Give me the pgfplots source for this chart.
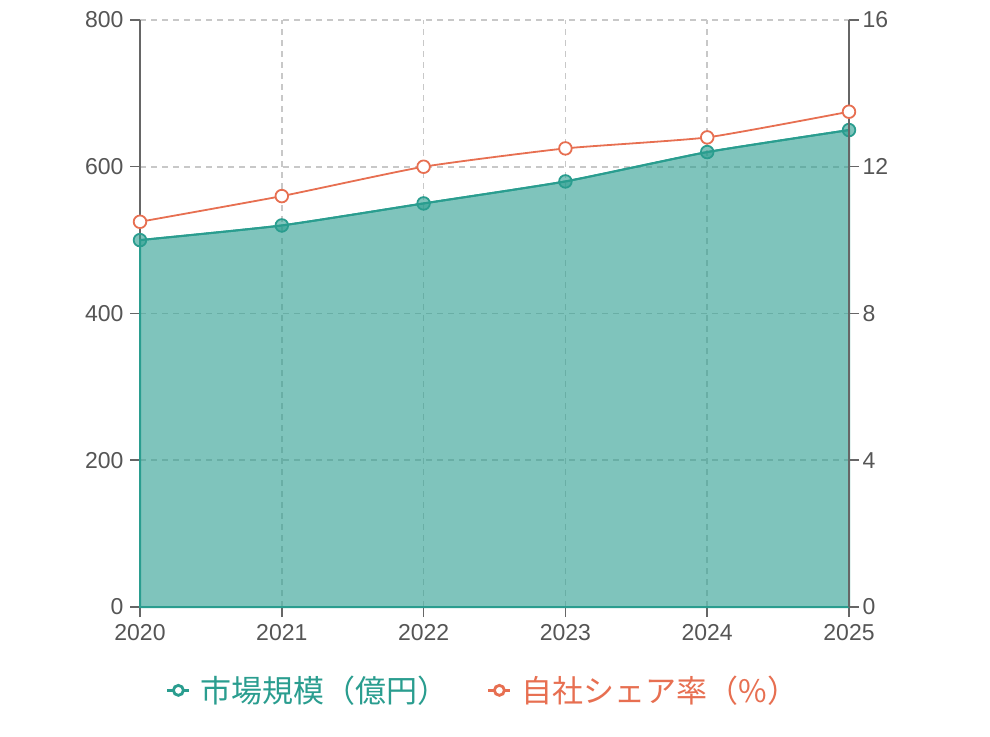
\documentclass[border=0pt]{standalone}
\usepackage{fontspec}
\setmainfont{Liberation Sans}
\newfontfamily\cjk{Noto Sans CJK JP}
\usepackage{pgfplots}
\pgfplotsset{compat=1.18}
\definecolor{teal}{HTML}{2A9D8F}
\definecolor{coral}{HTML}{E76F51}
\definecolor{axgray}{HTML}{666666}
\definecolor{lblgray}{HTML}{555555}
\definecolor{gridgray}{HTML}{C8C8C8}

\pgfplotsset{
  common/.style={
    scale only axis, width=709pt, height=587pt,
    at={(140pt,129pt)}, anchor=south west,
    xmin=2020, xmax=2025, ymin=0,
    tick align=outside, major tick length=10pt,
    tick style={axgray, line width=1.5pt},
    axis line style={axgray, line width=1.8pt},
    ticklabel style={font=\fontsize{23}{27}\selectfont, text=lblgray},
    /pgf/number format/assume math mode=true,
    /pgf/number format/1000 sep={},
    clip=false,
  },
}

\begin{document}
\begin{tikzpicture}
\useasboundingbox (0pt,0pt) rectangle (990pt,736pt);

\begin{axis}[common,
  ymax=800, ytick={0,200,400,600,800},
  xtick={2020,2021,2022,2023,2024,2025},
  axis y line*=left, axis x line*=bottom,
  yticklabel style={xshift=-3pt},
  xticklabel style={yshift=-4pt},
  grid=major,
  major grid style={gridgray, line width=1.6pt, dash pattern=on 6pt off 5pt},
  legend style={at={(0.484,-0.142)}, anchor=center, draw=none, fill=none,
    legend columns=2, font=\cjk\fontsize{31}{35}\selectfont,
    /tikz/every odd column/.append style={column sep=8pt},
    /tikz/every even column/.append style={column sep=36pt}},
  legend image code/.code={
    \draw[#1, line width=3pt] (0pt,0pt) -- (22pt,0pt);
    \draw[#1, line width=2.8pt, fill=white] (11pt,0pt) circle (5pt);
  },
]
% 市場規模（億円） area
\addplot[draw=teal, line width=2pt, fill=teal, fill opacity=0.6,
  smooth, tension=0.3, forget plot] coordinates {
  (2020,500) (2021,520) (2022,550) (2023,580) (2024,620) (2025,650)
} \closedcycle;
\addplot[draw=teal, line width=2pt, smooth, tension=0.3,
  mark=*, mark size=6.3pt,
  mark options={draw=teal, fill=teal, fill opacity=0.6, line width=1.8pt},
  forget plot] coordinates {
  (2020,500) (2021,520) (2022,550) (2023,580) (2024,620) (2025,650)
};
\addlegendimage{teal}
\addlegendentry{\textcolor{teal}{市場規模（億円）}}
\addlegendimage{coral}
\addlegendentry{\textcolor{coral}{自社シェア率（\%）}}
\end{axis}

\begin{axis}[common,
  ymax=16, ytick={0,4,8,12,16},
  axis y line*=right, axis x line=none,
]
% 自社シェア率（%）
\addplot[draw=coral, line width=1.8pt, smooth, tension=0.3,
  mark=*, mark size=6.3pt,
  mark options={draw=coral, fill=white, line width=1.8pt}] coordinates {
  (2020,10.5) (2021,11.2) (2022,12.0) (2023,12.5) (2024,12.8) (2025,13.5)
};
\end{axis}
\end{tikzpicture}
\end{document}
